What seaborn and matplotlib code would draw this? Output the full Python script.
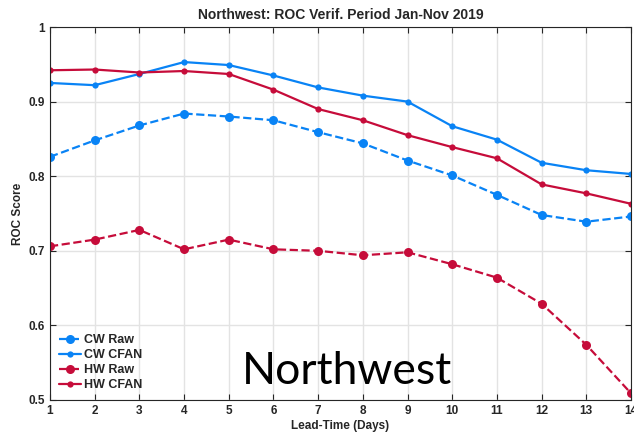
import numpy as np
import pandas as pd
import matplotlib
matplotlib.use('Agg')
import matplotlib.pyplot as plt
import seaborn as sns

lead_days = list(range(1, 15))
cw_raw = [0.826, 0.848, 0.868, 0.884, 0.880, 0.875, 0.859, 0.844, 0.821, 0.801, 0.775, 0.748, 0.739, 0.746]
cw_cfan = [0.925, 0.922, 0.937, 0.953, 0.949, 0.935, 0.919, 0.908, 0.900, 0.867, 0.849, 0.818, 0.808, 0.803]
hw_raw = [0.706, 0.715, 0.728, 0.702, 0.715, 0.702, 0.700, 0.694, 0.698, 0.682, 0.664, 0.629, 0.574, 0.509]
hw_cfan = [0.942, 0.943, 0.939, 0.941, 0.937, 0.916, 0.890, 0.875, 0.855, 0.839, 0.824, 0.789, 0.777, 0.763]

series_names = ['CW Raw', 'CW CFAN', 'HW Raw', 'HW CFAN']
blue = '#0983f5'
red = '#c60c3a'

df = pd.DataFrame({
    'day': lead_days * 4,
    'roc': cw_raw + cw_cfan + hw_raw + hw_cfan,
    'series': np.repeat(series_names, len(lead_days)),
})

sns.set_style('ticks')
plt.rcParams['font.family'] = ['Liberation Sans', 'DejaVu Sans']

fig = plt.figure(figsize=(6.34, 4.37), dpi=100)
ax = fig.add_axes([50 / 634, 1 - 400 / 437, 581 / 634, 373 / 437])

# colour, line style, marker size per series
styles = {
    'CW Raw': (blue, '--', 6.5),
    'CW CFAN': (blue, '-', 4.5),
    'HW Raw': (red, '--', 6.5),
    'HW CFAN': (red, '-', 4.5),
}
for name in series_names:
    color, ls, ms = styles[name]
    sub = df[df['series'] == name]
    sns.lineplot(data=sub, x='day', y='roc', ax=ax, color=color, linestyle=ls,
                 marker='o', markersize=ms, markeredgewidth=0, linewidth=1.6,
                 label=name)

ax.set_xlim(1, 14)
ax.set_ylim(0.5, 1)
ax.set_xticks(lead_days)
ax.set_yticks([0.5, 0.6, 0.7, 0.8, 0.9, 1.0])
ax.set_yticklabels(['0.5', '0.6', '0.7', '0.8', '0.9', '1'])
ax.grid(True, color='#e3e3e3', linewidth=1)
ax.set_axisbelow(True)
ax.tick_params(direction='in', top=True, right=True, length=4, width=0.8,
               labelsize=8.5, colors='#262626')
for lab in ax.get_xticklabels() + ax.get_yticklabels():
    lab.set_fontweight('bold')
for sp in ax.spines.values():
    sp.set_visible(True)
    sp.set_color('#262626')
    sp.set_linewidth(0.8)

ax.set_xlabel('Lead-Time (Days)', fontsize=8.5, fontweight='bold', color='#262626', labelpad=2)
ax.set_ylabel('ROC Score', fontsize=8.5, fontweight='bold', color='#262626', labelpad=3)
ax.set_title('Northwest: ROC Verif. Period Jan-Nov 2019', fontsize=10, fontweight='bold', pad=6)

ax.legend(loc='lower left', frameon=False, handlelength=1.8,
          handletextpad=0.2, labelspacing=0.25, borderaxespad=0.3,
          prop={'weight': 'bold', 'size': 9})

ax.text(0.512, 0.022, 'Northwest', transform=ax.transAxes, ha='center', va='bottom',
        fontsize=32, family=['Lato', 'DejaVu Sans'], color='black')

fig.savefig('out.png', dpi=100)
